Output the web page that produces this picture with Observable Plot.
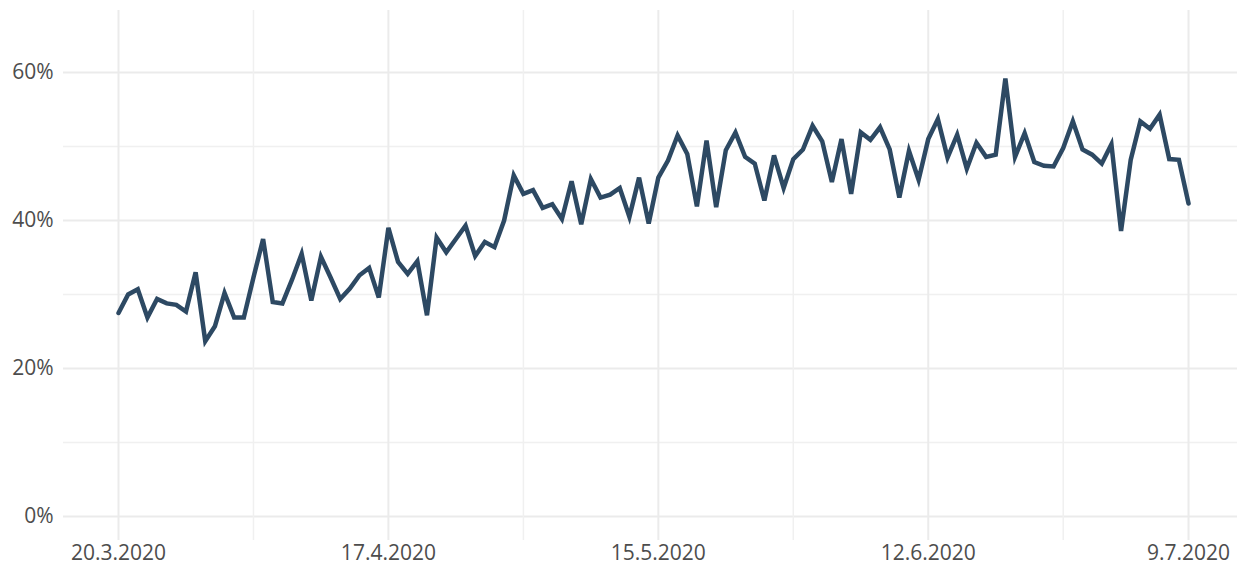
<!DOCTYPE html>
<html>
<head>
<meta charset="utf-8">
<script src="https://cdn.jsdelivr.net/npm/d3@7"></script>
<script src="https://cdn.jsdelivr.net/npm/@observablehq/plot@0.6"></script>
<style>
  html, body { margin: 0; padding: 0; background: #fff; }
  #chart svg { display: block; }
</style>
</head>
<body>
<div id="chart"></div>
<script>
// Daily share values (%), starting 20.3.2020
const startDate = "2020-03-20";
const values = [
  27.5, 30.0, 30.7, 26.9, 29.4, 28.8, 28.6, 27.7, 33.0, 23.7,
  25.7, 30.2, 26.9, 26.9, 32.3, 37.5, 29.0, 28.8, 32.0, 35.5,
  29.2, 35.1, 32.3, 29.4, 30.8, 32.6, 33.6, 29.6, 39.0, 34.4,
  32.8, 34.5, 27.2, 37.7, 35.7, 37.5, 39.3, 35.2, 37.1, 36.4,
  40.0, 46.1, 43.6, 44.1, 41.7, 42.2, 40.2, 45.3, 39.5, 45.6,
  43.1, 43.5, 44.4, 40.5, 45.8, 39.6, 45.8, 48.1, 51.5, 49.0,
  41.9, 50.8, 41.8, 49.5, 51.9, 48.6, 47.7, 42.7, 48.8, 44.4,
  48.3, 49.6, 52.8, 50.7, 45.2, 51.0, 43.6, 51.9, 50.9, 52.6,
  49.6, 43.1, 49.4, 45.5, 51.0, 53.7, 48.5, 51.6, 47.0, 50.5,
  48.6, 48.9, 59.2, 48.6, 51.8, 47.9, 47.4, 47.3, 49.8, 53.4,
  49.6, 48.9, 47.7, 50.3, 38.6, 48.2, 53.4, 52.4, 54.3, 48.3,
  48.2, 42.3
];
const xTickLabels = ["2020-03-20", "2020-04-17", "2020-05-15", "2020-06-12", "2020-07-09"];
const xGridDates = ["2020-03-20", "2020-04-03", "2020-04-17", "2020-05-01", "2020-05-15",
                    "2020-05-29", "2020-06-12", "2020-06-26", "2020-07-09"];
const yTickLabels = [0, 0.2, 0.4, 0.6];
const yGridValues = [0, 0.1, 0.2, 0.3, 0.4, 0.5, 0.6];

const parse = d3.utcParse("%Y-%m-%d");
const start = parse(startDate);
const data = values.map((v, i) => ({ date: d3.utcDay.offset(start, i), value: v / 100 }));
const end = data[data.length - 1].date;
const DAY = 864e5;

const fmtDate = d => `${d.getUTCDate()}.${d.getUTCMonth() + 1}.${d.getUTCFullYear()}`;
const labelSet = new Set(xTickLabels.map(s => +parse(s)));

const chart = Plot.plot({
  width: 1237,
  height: 570,
  marginTop: 10,
  marginBottom: 30,
  marginLeft: 63,
  marginRight: 0,
  style: { fontFamily: "'Open Sans', sans-serif", fontSize: "21px", color: "#4d4d4d", background: "#fff" },
  x: { type: "utc", domain: [new Date(+start - 5.706 * DAY), new Date(+end + 5.08 * DAY)] },
  y: { domain: [-0.0324, 0.6838] },
  marks: [
    Plot.gridY(yGridValues.filter((d, i) => i % 2 === 1), { stroke: "#f0f0f0", strokeOpacity: 1, strokeWidth: 1.5 }),
    Plot.gridY(yTickLabels, { stroke: "#ebebeb", strokeOpacity: 1, strokeWidth: 2 }),
    Plot.gridX(xGridDates.map(parse).filter(d => !labelSet.has(+d)), { stroke: "#f0f0f0", strokeOpacity: 1, strokeWidth: 1.5 }),
    Plot.gridX(xTickLabels.map(parse), { stroke: "#ebebeb", strokeOpacity: 1, strokeWidth: 2 }),
    Plot.axisX(xTickLabels.map(parse), { tickSize: 0, tickPadding: 5, tickFormat: fmtDate, label: null, fill: "#4d4d4d" }),
    Plot.axisY(yTickLabels, { tickSize: 0, tickPadding: 10, tickFormat: d => `${Math.round(d * 100)}%`, label: null, fill: "#4d4d4d" }),
    Plot.lineY(data, { x: "date", y: "value", stroke: "#2d4963", strokeWidth: 4.5, strokeLinejoin: "miter", strokeMiterlimit: 4 })
  ]
});
document.getElementById("chart").appendChild(chart);
</script>
</body>
</html>
